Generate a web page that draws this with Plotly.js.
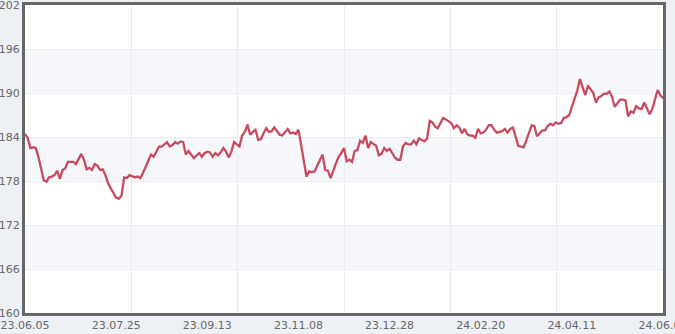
<!DOCTYPE html>
<html>
<head>
<meta charset="utf-8">
<script src="https://cdn.plot.ly/plotly-3.0.1.min.js"></script>
<style>
html,body{margin:0;padding:0;background:#edf1f5;}
#chart{width:675px;height:334px;}
</style>
</head>
<body>
<div id="chart"></div>
<script>
// Daily closing values (trading-day sequence)
const prices = [
  184.4, 183.9, 182.5, 182.6, 182.5, 181.3, 179.7, 178.1, 177.9, 178.5,
  178.6, 178.8, 179.4, 178.3, 179.5, 179.7, 180.6, 180.6, 180.6, 180.3,
  181.1, 181.7, 180.9, 179.6, 179.8, 179.5, 180.3, 180.1, 179.5, 179.6,
  178.8, 177.7, 177.0, 176.3, 175.7, 175.6, 176.0, 178.5, 178.4, 178.8,
  178.6, 178.5, 178.6, 178.4, 179.1, 180.0, 180.7, 181.6, 181.3, 182.0,
  182.7,
  182.7, 183.0, 183.3, 182.7, 182.9, 183.3, 183.1, 183.4, 183.3, 181.6,
  182.1, 181.6, 181.1, 181.5, 181.8, 181.3, 181.8, 182.0, 181.9, 181.3,
  181.8, 181.5, 181.9, 182.5, 182.0, 181.2, 182.0, 183.3, 183.0, 182.7,
  184.2, 184.7, 185.7, 184.3, 184.7, 185.0, 183.6, 183.7, 184.5, 185.2,
  184.7, 184.8, 185.3, 184.8, 184.3, 184.2,
  184.7, 185.1, 184.5, 184.6, 184.4, 185.0, 182.9, 180.6, 178.6, 179.3,
  179.2, 179.3, 180.0, 180.9, 181.6, 179.5, 179.4, 178.4, 179.5, 180.4,
  181.3, 181.8, 182.5, 180.7, 180.9, 180.6, 182.1, 182.2, 183.5, 183.2,
  184.2, 182.5, 183.3, 183.0, 182.8, 181.5, 181.7, 182.5, 182.1, 182.4,
  181.8, 181.2, 180.9, 180.9, 182.7, 183.2, 183.0,
  183.0, 183.5, 183.0, 183.8, 183.6, 183.4, 183.8, 186.2, 186.0, 185.4,
  185.2, 185.9, 186.6, 186.4, 186.1, 185.9, 185.2, 185.6, 185.3, 184.5,
  185.1, 184.4, 184.2, 184.2, 183.9, 185.1, 184.5, 184.6, 185.0, 185.6,
  185.6, 185.0, 184.6, 184.7, 184.8, 185.1, 184.6, 185.1, 185.3, 184.1,
  182.8, 182.7, 182.6, 183.5, 184.6, 185.6,
  185.5, 184.1, 184.5, 184.9, 184.9, 185.5, 185.8, 185.6, 186.0, 185.8,
  185.9, 186.6, 186.7, 187.0, 188.1, 189.1, 190.3, 191.9, 190.9, 189.7,
  191.0, 190.5, 190.0, 188.7, 189.4, 189.6, 189.9, 189.9, 190.2, 189.5,
  188.1, 188.6, 189.1, 189.1, 189.0, 186.8, 187.5, 187.3, 188.2, 187.9,
  187.8, 188.7, 187.8, 187.1, 187.8, 189.1, 190.4, 189.7, 189.3
];
const dateLabels = ['23.06.05','23.07.25','23.09.13','23.11.08','23.12.28','24.02.20','24.04.11','24.06.04'];
const yTicks = [160, 166, 172, 178, 184, 190, 196, 202];

const n = prices.length;
const idx = prices.map((_, i) => i);
const last = n - 1;
const labelPos = dateLabels.map((_, k) => k * last / (dateLabels.length - 1));
const gridPos = [0,1,2,3,4,5,6].map(k => k * last / 6);

// alternating horizontal bands: 166-172, 178-184, 190-196
const shapes = [];
for (let i = 1; i + 1 < yTicks.length; i += 2) {
  shapes.push({type:'rect', xref:'paper', yref:'y', x0:0, x1:1,
    y0: yTicks[i], y1: yTicks[i+1],
    fillcolor:'#f5f7fa', line:{width:0}, layer:'below'});
}

const traces = [
  {x: idx, y: prices, type:'scatter', mode:'lines',
   line:{color:'#c84a5e', width:2.3}, hoverinfo:'y', showlegend:false},
  {x: [], y: [], xaxis:'x2', yaxis:'y', type:'scatter', mode:'lines', showlegend:false, hoverinfo:'skip'}
];

const tickFont = {family:'DejaVu Sans, Verdana, sans-serif', size:11, color:'#666'};
const layout = {
  width:675, height:334,
  margin:{l:25, r:12, t:5, b:21, pad:0},
  paper_bgcolor:'#edf1f5',
  plot_bgcolor:'#ffffff',
  showlegend:false,
  shapes: shapes,
  xaxis:{
    range:[0, last], tickmode:'array', tickvals:labelPos, ticktext:dateLabels,
    showgrid:false, zeroline:false, ticks:'', tickfont:tickFont,
    ticklabeloverflow:'allow',
    showline:true, linecolor:'#666', linewidth:3, mirror:true, fixedrange:true
  },
  xaxis2:{
    range:[0, last], overlaying:'x', anchor:'y', side:'bottom',
    tickmode:'array', tickvals:gridPos, showticklabels:false, ticks:'',
    showgrid:true, gridcolor:'#e8ebef', gridwidth:1, zeroline:false, showline:false
  },
  yaxis:{
    range:[yTicks[0], yTicks[yTicks.length-1]], tickmode:'array', tickvals:yTicks,
    showgrid:true, gridcolor:'#e8ebef', gridwidth:1, zeroline:false, ticks:'',
    tickfont:tickFont, ticklabeloverflow:'allow',
    showline:true, linecolor:'#666', linewidth:3, mirror:true,
    fixedrange:true
  }
};

Plotly.newPlot('chart', traces, layout, {displayModeBar:false, staticPlot:true});
</script>
</body>
</html>
